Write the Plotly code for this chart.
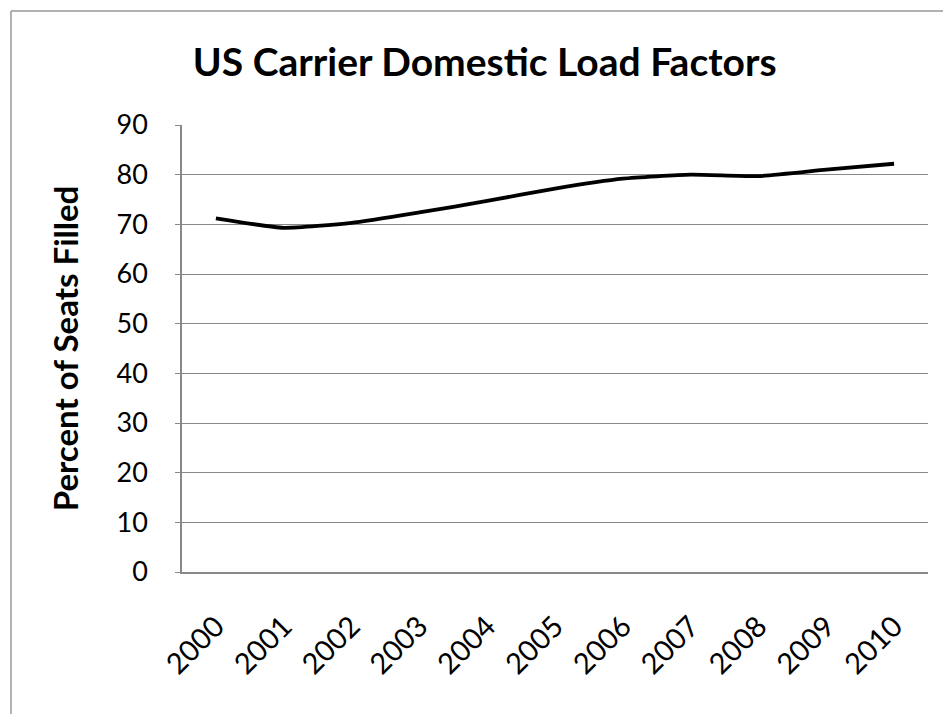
import plotly.graph_objects as go

years = ["2000", "2001", "2002", "2003", "2004", "2005", "2006", "2007", "2008", "2009", "2010"]
load_factor = [71.2, 69.3, 70.3, 72.4, 74.7, 77.2, 79.2, 80.0, 79.7, 81.0, 82.2]
y_ticks = [0, 10, 20, 30, 40, 50, 60, 70, 80, 90]

FONT = "Lato"

fig = go.Figure()
fig.add_trace(go.Scatter(
    x=years, y=load_factor, mode="lines",
    line=dict(color="black", width=3.8, shape="spline", smoothing=0.5),
    showlegend=False, hoverinfo="x+y",
))

fig.update_layout(
    width=943, height=715,
    margin=dict(l=182, r=15, t=125, b=143),
    paper_bgcolor="white", plot_bgcolor="white",
    title=dict(text="<b>US Carrier Domestic Load Factors</b>",
               x=0.514, xanchor="center", y=0.913, yanchor="middle",
               font=dict(family=FONT, size=39, color="black")),
    xaxis=dict(type="category", range=[-0.5, 10.5], showgrid=False,
               showline=True, linecolor="#888888", linewidth=1.5,
               ticks="", tickangle=-45, ticklabelstandoff=24,
               tickfont=dict(family=FONT, size=29, color="black")),
    yaxis=dict(range=[0, 90], tickvals=y_ticks, showgrid=True,
               gridcolor="#888888", gridwidth=1.2,
               showline=True, linecolor="#888888", linewidth=1.5,
               ticks="outside", ticklen=5, tickcolor="#888888",
               ticklabelstandoff=22,
               tickfont=dict(family=FONT, size=27, color="black"),
               title=dict(text="<b>Percent of Seats Filled</b>", standoff=28,
                          font=dict(family=FONT, size=33, color="black")),
               zeroline=False),
    shapes=[
        dict(type="line", xref="paper", yref="paper",
             x0=(11 - 182) / 746, x1=(11 - 182) / 746,
             y0=(572 - 714) / 447, y1=1 + (125 - 11) / 447,
             line=dict(color="#999999", width=1.5)),
        dict(type="line", xref="paper", yref="paper",
             x0=(11 - 182) / 746, x1=(943 - 182) / 746,
             y0=1 + (125 - 11) / 447, y1=1 + (125 - 11) / 447,
             line=dict(color="#999999", width=1.5)),
    ],
)

fig.write_html("out.html")
